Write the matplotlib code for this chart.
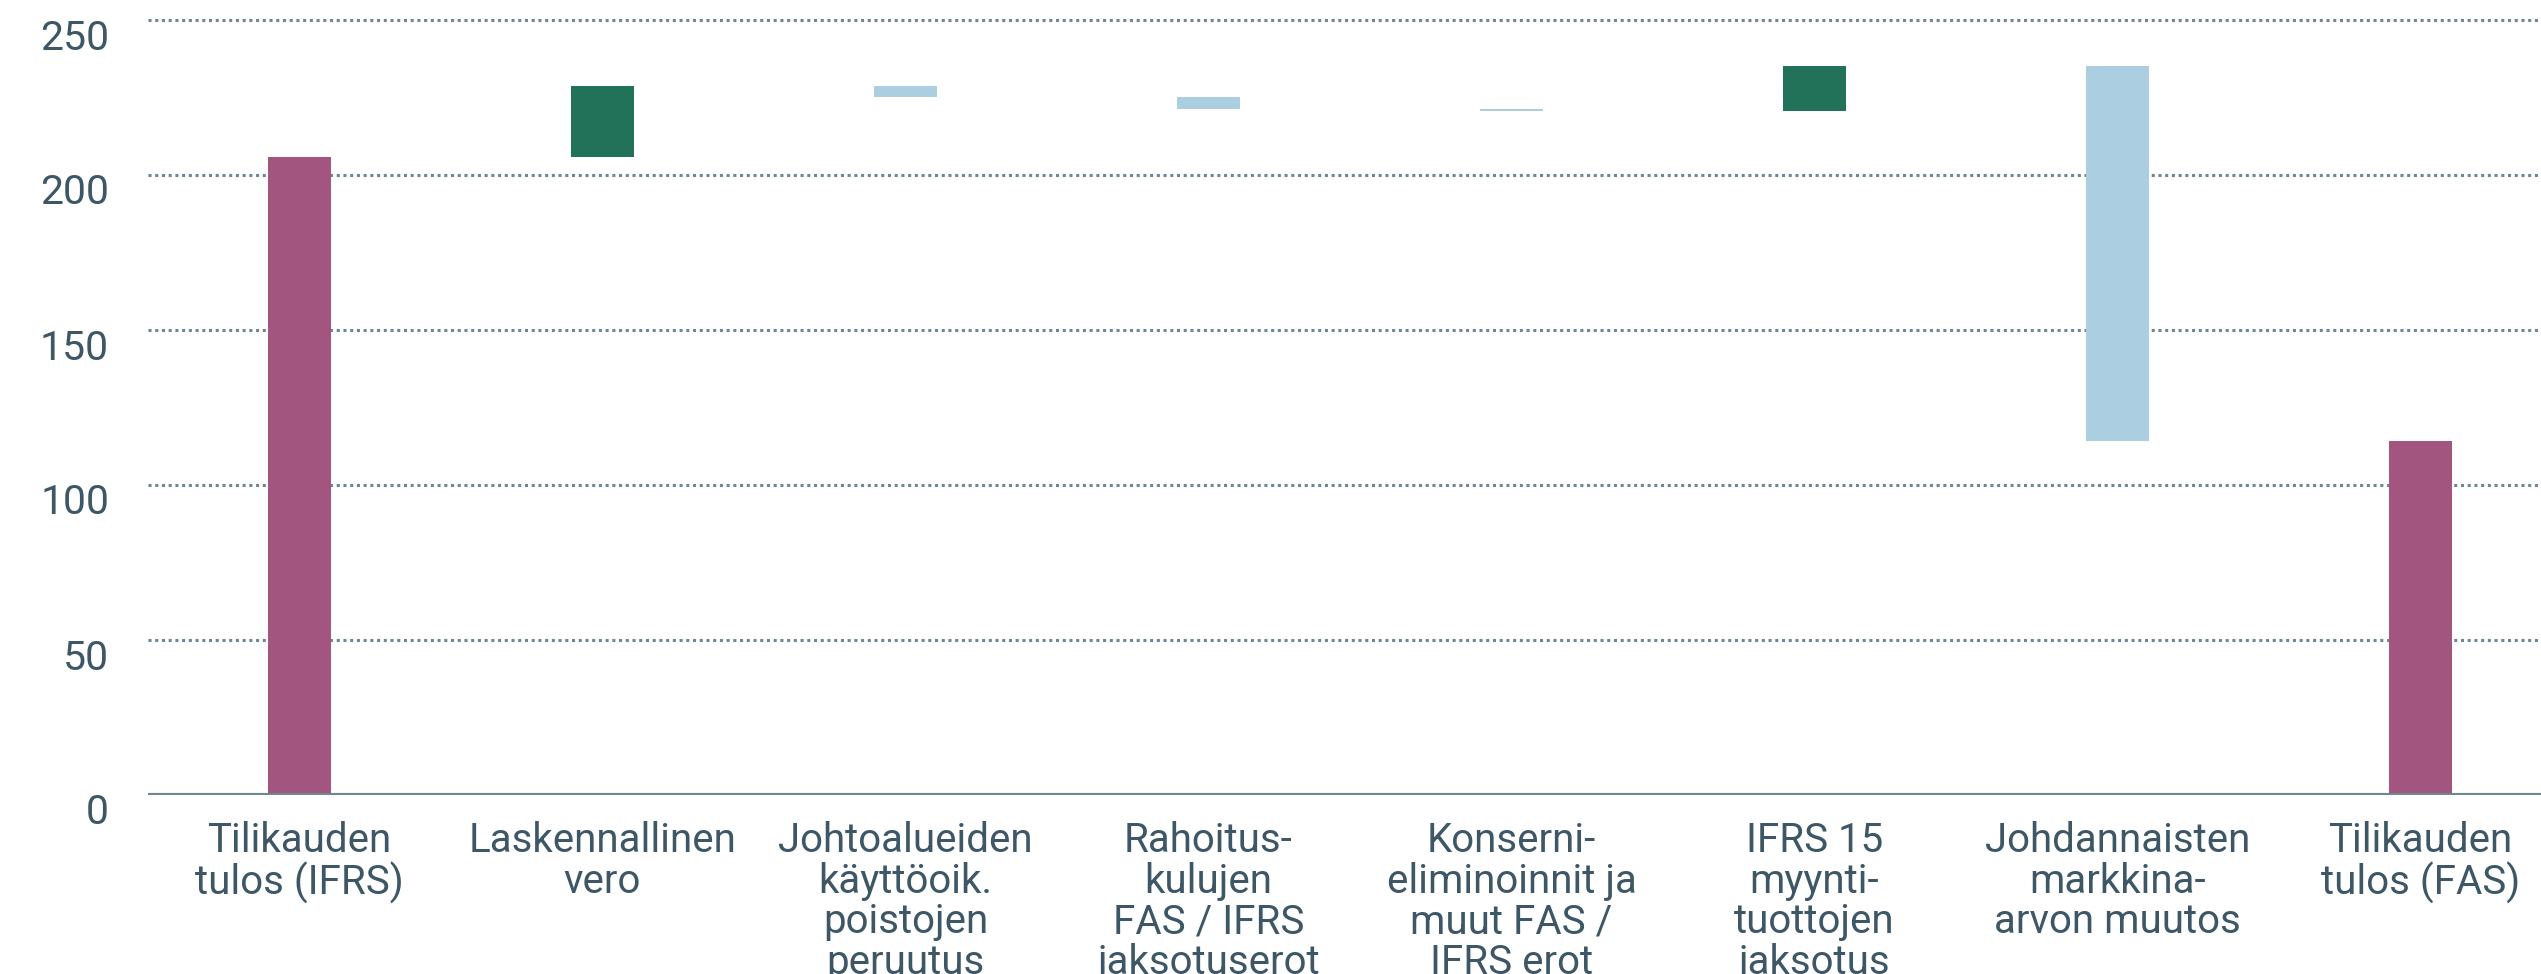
"""
Tilikauden tulos IFRS -> FAS siltakaavio (waterfall).
"""

import matplotlib
matplotlib.use("Agg")
import matplotlib.pyplot as plt
import matplotlib.transforms as mtransforms
import numpy as np


LABELS = [
    "Tilikauden\ntulos (IFRS)",
    "Laskennallinen\nvero",
    "Johtoalueiden\nkäyttöoik.\npoistojen\nperuutus",
    "Rahoitus-\nkulujen\nFAS / IFRS\njaksotuserot",
    "Konserni-\neliminoinnit ja\nmuut FAS /\nIFRS erot",
    "IFRS 15\nmyynti-\ntuottojen\njaksotus",
    "Johdannaisten\nmarkkina-\narvon muutos",
    "Tilikauden\ntulos (FAS)",
]
START_VALUE = 205.8
DELTAS = [22.9, -3.6, -3.7, -0.6, 14.3, -120.8]
Y_TICKS = [0, 50, 100, 150, 200, 250]

TOTAL_COLOR = "#a2567f"
UP_COLOR = "#22725a"
DOWN_COLOR = "#abcfe1"
TEXT_COLOR = "#3d5766"
LINE_COLOR = "#6f8793"

plt.rcParams["font.family"] = ["Roboto", "DejaVu Sans"]


def main() -> None:
    # build waterfall segments from the deltas
    levels = START_VALUE + np.concatenate([[0.0], np.cumsum(DELTAS)])
    end_value = levels[-1]
    bottoms = [0.0]
    heights = [START_VALUE]
    colors = [TOTAL_COLOR]
    for i, d in enumerate(DELTAS):
        bottoms.append(min(levels[i], levels[i + 1]))
        heights.append(abs(d))
        colors.append(UP_COLOR if d > 0 else DOWN_COLOR)
    bottoms.append(0.0)
    heights.append(end_value)
    colors.append(TOTAL_COLOR)

    fig = plt.figure(figsize=(25.41, 9.74), dpi=100)
    ax = fig.add_axes([148 / 2541, (974 - 795) / 974, (2541 - 148) / 2541, (795 - 20) / 974])

    x = np.arange(len(LABELS))
    ax.bar(x, heights, bottom=bottoms, color=colors, width=0.21, zorder=3)

    ax.set_xlim(-0.5, 7.398)
    ax.set_ylim(0, 250)
    ax.set_yticks(Y_TICKS)
    ax.set_xticks(x)
    ax.set_xticklabels(LABELS, linespacing=1.05)

    for y in Y_TICKS[1:]:
        ax.axhline(y, color=LINE_COLOR, lw=2.2, ls=(0, (1, 1.2)), zorder=1, clip_on=False)
    ax.axhline(0, color=LINE_COLOR, lw=3, zorder=4)

    for side in ["top", "right", "left", "bottom"]:
        ax.spines[side].set_visible(False)

    ax.tick_params(axis="both", length=0, colors=TEXT_COLOR)
    ax.tick_params(axis="x", pad=19, labelsize=29)
    ax.tick_params(axis="y", pad=28, labelsize=29.5)
    for lbl in ax.get_xticklabels():
        lbl.set_color(TEXT_COLOR)

    # y labels sit slightly below their gridlines
    offset = mtransforms.ScaledTranslation(0, -14 / 100, fig.dpi_scale_trans)
    for lbl in ax.get_yticklabels():
        lbl.set_transform(lbl.get_transform() + offset)

    fig.savefig("out.png", dpi=100)
    plt.close(fig)


if __name__ == "__main__":
    main()
